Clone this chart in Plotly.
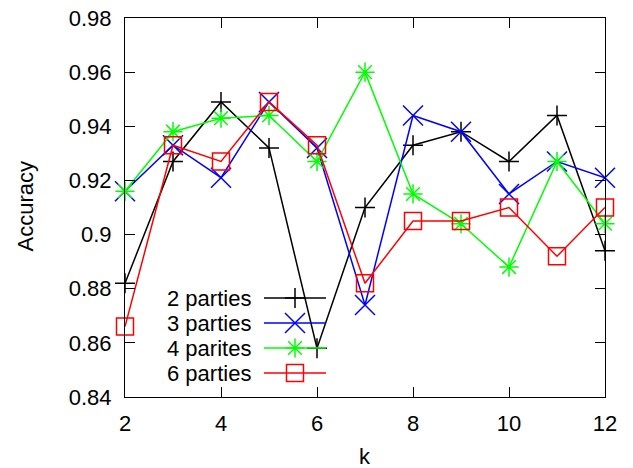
import plotly.graph_objects as go

# ---- data ----
k = [2, 3, 4, 5, 6, 7, 8, 9, 10, 11, 12]
acc_2_parties = [0.882, 0.927, 0.949, 0.932, 0.858, 0.910, 0.933, 0.938, 0.927, 0.944, 0.894]
acc_3_parties = [0.916, 0.933, 0.921, 0.949, 0.932, 0.874, 0.944, 0.938, 0.915, 0.927, 0.921]
acc_4_parites = [0.916, 0.938, 0.943, 0.944, 0.927, 0.960, 0.915, 0.904, 0.888, 0.927, 0.904]
acc_6_parties = [0.866, 0.933, 0.927, 0.949, 0.933, 0.882, 0.905, 0.905, 0.910, 0.892, 0.910]

series_names = ["2 parties", "3 parties", "4 parites", "6 parties"]
x_tick_vals = [2, 4, 6, 8, 10, 12]
y_tick_vals = [0.84, 0.86, 0.88, 0.90, 0.92, 0.94, 0.96, 0.98]
y_tick_text = ["0.84", "0.86", "0.88", "0.9", "0.92", "0.94", "0.96", "0.98"]

# ---- styles ----
colors = ["#000000", "#0000ff", "#00ff00", "#ff0000"]
symbols = ["cross-thin-open", "x-thin-open", "asterisk-open", "square-open"]
sizes = [14.3, 20, 16, 17]
FONT = "Liberation Sans, Arial, sans-serif"
FS = 22

# page body has an 8px margin: lay the figure out in screen pixels minus that offset
OFF = 8
SW, SH = 633, 468                 # screen size
PL, PR, PT, PB = 125, 605, 18, 397  # plot frame in screen pixels
W, H = SW - OFF, SH - OFF
L, R, T, B = PL - OFF, SW - PR, PT - OFF, SH - PB
PW, PH = PR - PL, PB - PT

def px_x(p):
    return (p - PL) / PW

def px_y(p):
    return (PB - p) / PH

fig = go.Figure()
all_series = [acc_2_parties, acc_3_parties, acc_4_parites, acc_6_parties]
for vals, name, c, s, sz in zip(all_series, series_names, colors, symbols, sizes):
    fig.add_trace(go.Scatter(
        x=k, y=vals, name=name, mode="lines+markers",
        line=dict(color=c, width=1.5),
        marker=dict(symbol=s, size=sz, color=c, line=dict(color=c, width=1.5)),
        cliponaxis=False, showlegend=False,
    ))

# ---- gnuplot-style key (text right-aligned, sample on the right) ----
key_rows_px = [298, 323, 348, 373]
for i, (name, c, s, sz) in enumerate(zip(series_names, colors, symbols, sizes)):
    yy = px_y(key_rows_px[i])
    fig.add_trace(go.Scatter(
        x=[px_x(264), px_x(326)], y=[yy, yy], mode="lines",
        line=dict(color=c, width=1.5), xaxis="x2", yaxis="y2",
        cliponaxis=False, showlegend=False, hoverinfo="skip",
    ))
    fig.add_trace(go.Scatter(
        x=[px_x(295)], y=[yy], mode="markers",
        marker=dict(symbol=s, size=sz, color=c, line=dict(color=c, width=1.5)),
        xaxis="x2", yaxis="y2", cliponaxis=False, showlegend=False, hoverinfo="skip",
    ))
    fig.add_annotation(
        x=px_x(253), y=yy, xref="paper", yref="paper", text=name,
        showarrow=False, xanchor="right", yanchor="middle",
        font=dict(family=FONT, size=FS, color="#000000"),
    )

# axis titles
fig.add_annotation(x=px_x(25), y=px_y(206.5), xref="paper", yref="paper",
                   text="Accuracy", textangle=-90, showarrow=False,
                   xanchor="center", yanchor="middle",
                   font=dict(family=FONT, size=FS, color="#000000"))
fig.add_annotation(x=0.5, y=px_y(456.5), xref="paper", yref="paper",
                   text="k", showarrow=False, xanchor="center", yanchor="middle",
                   font=dict(family=FONT, size=FS, color="#000000"))

axis_common = dict(
    showgrid=False, zeroline=False, showline=True, linecolor="#000000", linewidth=1,
    mirror="ticks", ticks="inside", ticklen=10, tickwidth=1, tickcolor="#000000",
    ticklabeloverflow="allow", automargin=False,
    tickfont=dict(family=FONT, size=FS, color="#000000"),
)
fig.update_layout(
    width=W, height=H,
    margin=dict(l=L, r=R, t=T, b=B),
    paper_bgcolor="white", plot_bgcolor="white",
    xaxis=dict(range=[2, 12], tickvals=x_tick_vals, ticklabelstandoff=7, **axis_common),
    yaxis=dict(range=[0.84, 0.98], tickvals=y_tick_vals, ticktext=y_tick_text,
               ticklabelstandoff=8, **axis_common),
    xaxis2=dict(overlaying="x", range=[0, 1], visible=False),
    yaxis2=dict(overlaying="y", range=[0, 1], visible=False),
    showlegend=False,
)

fig.write_html("out.html")
